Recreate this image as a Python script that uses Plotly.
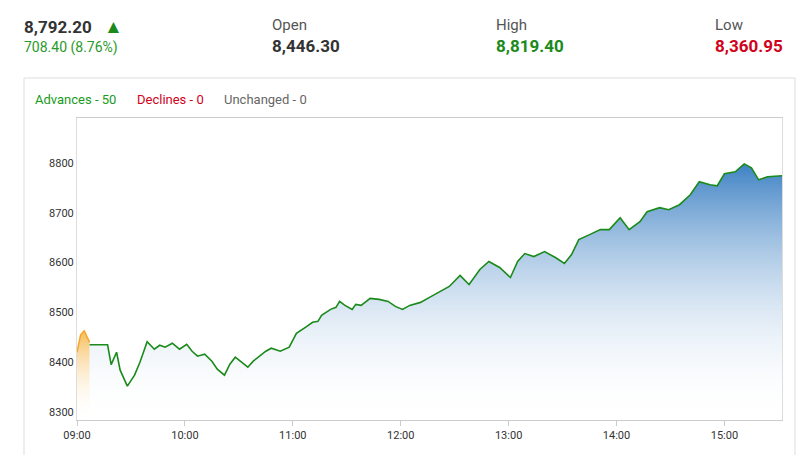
import plotly.graph_objects as go

# pre-open segment (orange) and the session line (green)
pre_times = ["09:00", "09:02", "09:04", "09:07"]
pre_values = [8420, 8455, 8463, 8440]

times = ["09:07", "09:17", "09:19", "09:22", "09:24", "09:28", "09:32", "09:35", "09:39", "09:43",
         "09:46", "09:49", "09:53", "09:57", "10:01", "10:04", "10:07", "10:11", "10:15", "10:18",
         "10:22", "10:25", "10:28", "10:32", "10:35", "10:38", "10:42", "10:45", "10:48", "10:53",
         "10:58", "11:02", "11:07", "11:11", "11:14", "11:16", "11:21", "11:24", "11:26", "11:29",
         "11:33", "11:35", "11:38", "11:43", "11:48", "11:53", "11:57", "12:01", "12:05", "12:11",
         "12:16", "12:22", "12:27", "12:33", "12:38", "12:44", "12:49", "12:55", "13:01", "13:05",
         "13:09", "13:14", "13:20", "13:26", "13:31", "13:35", "13:39", "13:45", "13:51", "13:56",
         "14:02", "14:07", "14:13", "14:17", "14:24", "14:29", "14:35", "14:41", "14:46", "14:52",
         "14:56", "15:00", "15:06", "15:11", "15:15", "15:19", "15:24", "15:32"]
values = [8435, 8435, 8395, 8420, 8384, 8352, 8374, 8400, 8441, 8426,
          8434, 8430, 8438, 8426, 8436, 8422, 8412, 8416, 8402, 8386,
          8374, 8396, 8410, 8398, 8390, 8402, 8414, 8422, 8428, 8422,
          8430, 8458, 8470, 8480, 8482, 8494, 8506, 8510, 8522, 8514,
          8506, 8516, 8514, 8528, 8526, 8522, 8512, 8506, 8514, 8520,
          8530, 8542, 8552, 8574, 8556, 8586, 8602, 8590, 8570, 8602,
          8618, 8612, 8622, 8610, 8598, 8616, 8646, 8656, 8666, 8666,
          8690, 8666, 8682, 8702, 8710, 8706, 8716, 8736, 8762, 8756,
          8754, 8778, 8782, 8798, 8790, 8766, 8772, 8774]

tick_labels = ["09:00", "10:00", "11:00", "12:00", "13:00", "14:00", "15:00"]
y_ticks = [8300, 8400, 8500, 8600, 8700, 8800]
y_floor = 8284

day = "2020-01-01 "
OFF = 8  # page body margin
W, H = 804, 447
L, R, T, B = 77 - OFF, 782 - OFF, 118 - OFF, 420 - OFF


def px(x):
    return (x - OFF - L) / (R - L)


def py(y):
    return (B - (y - OFF)) / (B - T)


def area(ts, vs, line_col, top_col, width):
    xs = [day + t for t in ts]
    fig.add_trace(go.Scatter(x=xs, y=[y_floor] * len(xs), mode="lines",
                             line=dict(width=0), hoverinfo="skip"))
    fig.add_trace(go.Scatter(
        x=xs, y=vs, mode="lines", line=dict(color=line_col, width=width), fill="tonexty",
        fillgradient=dict(type="vertical", colorscale=[[0, "rgba(255,255,255,0)"], [1, top_col]]),
        hoverinfo="skip"))


fig = go.Figure()
area(pre_times, pre_values, "#f5a623", "rgba(245,166,35,0.75)", 1.5)
area(times, values, "#1a8a1a", "#3f82c4", 1.6)

fig.update_xaxes(
    range=[day + "09:00", day + "15:32"], type="date",
    tickvals=[day + t for t in tick_labels], ticktext=tick_labels,
    showgrid=False, zeroline=False, showline=True, linecolor="#cccccc", mirror=True,
    ticks="outside", ticklen=5, tickcolor="#cccccc",
    tickfont=dict(size=11, color="#333333"))
fig.update_yaxes(
    range=[y_floor, 8890], tickvals=y_ticks, showgrid=False, zeroline=False,
    showline=True, linecolor="#dddddd", mirror=True, ticks="",
    tickfont=dict(size=11, color="#333333"))

# outer panel border
fig.add_shape(type="rect", xref="paper", yref="paper",
              x0=px(24), x1=px(795), y0=py(470), y1=py(78),
              line=dict(color="#dddddd", width=1), layer="below")

ann = []


def txt(x, y, s, color="#333333", size=14, bold=False):
    ann.append(dict(x=px(x), y=py(y), xref="paper", yref="paper", text=("<b>%s</b>" % s) if bold else s,
                    showarrow=False, xanchor="left", yanchor="middle",
                    font=dict(size=size, color=color, family="Roboto")))


txt(22, 27, "8,792.20", size=17, bold=True)
txt(102, 27, "▲", color="#1a8a1a", size=19)
txt(22, 47, "708.40 (8.76%)", color="#2a9a2a", size=14)
txt(270, 25, "Open", color="#555555", size=15)
txt(270, 46, "8,446.30", size=17, bold=True)
txt(494, 25, "High", color="#555555", size=15)
txt(494, 46, "8,819.40", color="#1a8a1a", size=17, bold=True)
txt(713, 25, "Low", color="#555555", size=15)
txt(713, 46, "8,360.95", color="#d0021b", size=17, bold=True)
txt(33, 99, "Advances - 50", color="#1a9a1a", size=13)
txt(135, 99, "Declines - 0", color="#d0021b", size=13)
txt(222, 99, "Unchanged - 0", color="#666666", size=13)

fig.update_layout(
    width=W, height=H, margin=dict(l=L, r=W - R, t=T, b=H - B),
    paper_bgcolor="white", plot_bgcolor="white", showlegend=False,
    annotations=ann, font=dict(family="Roboto"))

fig.write_html("out.html")
